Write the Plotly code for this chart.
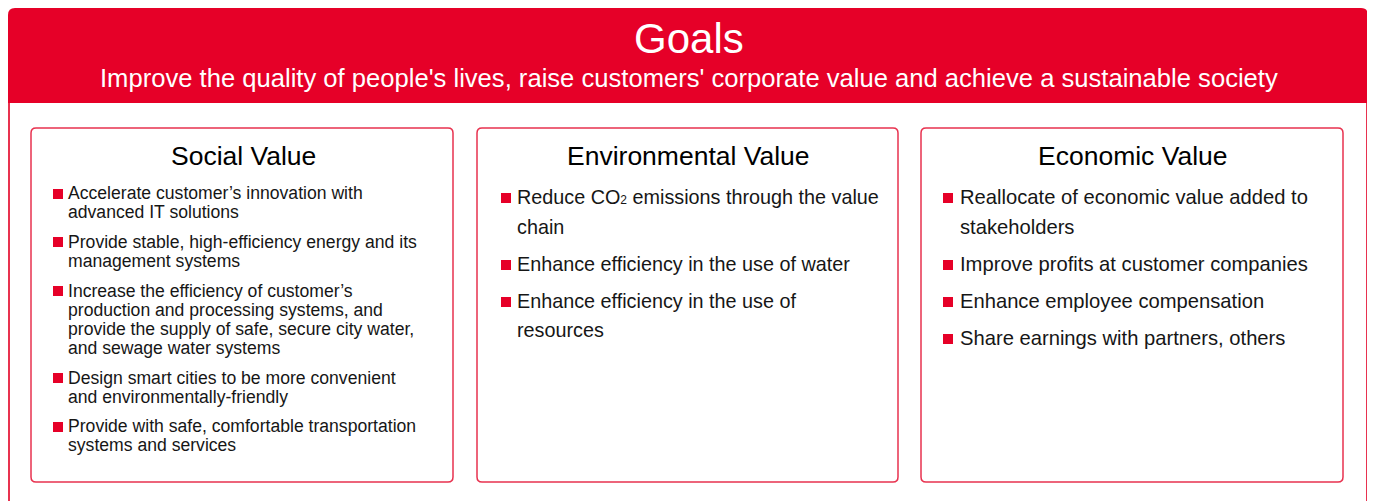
import plotly.graph_objects as go

# ---------------- data ----------------
goal_title = "Goals"
goal_subtitle = "Improve the quality of people's lives, raise customers' corporate value and achieve a sustainable society"

panel_titles = ["Social Value", "Environmental Value", "Economic Value"]

social_items = [
    ["Accelerate customer\u2019s innovation with", "advanced IT solutions"],
    ["Provide stable, high-efficiency energy and its", "management systems"],
    ["Increase the efficiency of customer\u2019s", "production and processing systems, and",
     "provide the supply of safe, secure city water,", "and sewage water systems"],
    ["Design smart cities to be more convenient", "and environmentally-friendly"],
    ["Provide with safe, comfortable transportation", "systems and services"],
]
environmental_items = [
    ['Reduce CO<span style="font-size:12px">2</span> emissions through the value', "chain"],
    ["Enhance efficiency in the use of water"],
    ["Enhance efficiency in the use of", "resources"],
]
economic_items = [
    ["Reallocate of economic value added to", "stakeholders"],
    ["Improve profits at customer companies"],
    ["Enhance employee compensation"],
    ["Share earnings with partners, others"],
]

# ---------------- style / layout ----------------
W, H = 1375, 501
PAGE_OFF = 8  # page body margin: axes ranges are shifted so coords = page pixels
RED = "#e60028"
BORDER = "#e8324f"
TEXT = "#161616"
FONT = "Liberation Sans, Arial, sans-serif"

panels = [
    dict(x0=31, x1=453, items=social_items, fs=17.6, first=199.5, line=19.1, gap=29.6,
         bx=58, tx=66, bs=10),
    dict(x0=477, x1=898, items=environmental_items, fs=19.8, first=204, line=29.6, gap=37.0,
         bx=506, tx=514.5, bs=10),
    dict(x0=921, x1=1343, items=economic_items, fs=20.2, first=204, line=29.6, gap=37.0,
         bx=948, tx=957.5, bs=10),
]
BOX_TOP, BOX_BOT = 128, 482
TITLE_FS = 26.5


def rounded_rect(x0, y0, x1, y1, r):
    return (f"M {x0+r},{y0} H {x1-r} Q {x1},{y0} {x1},{y0+r} V {y1-r} "
            f"Q {x1},{y1} {x1-r},{y1} H {x0+r} Q {x0},{y1} {x0},{y1-r} "
            f"V {y0+r} Q {x0},{y0} {x0+r},{y0} Z")


shapes = []
annotations = []

# header (rounded top corners)
shapes.append(dict(type="path", xref="x", yref="y",
                   path="M 8,103 V 15 Q 8,8 15,8 H 1361 Q 1368,8 1368,15 V 103 Z",
                   fillcolor=RED, line=dict(width=0), layer="below"))
# outer body borders
for xb in (9, 1367):
    shapes.append(dict(type="line", xref="x", yref="y", x0=xb, x1=xb, y0=103, y1=520,
                       line=dict(color=BORDER, width=2)))

annotations.append(dict(x=688.5, y=53 - 0.35 * 42, text=goal_title, showarrow=False,
                        xanchor="center", yanchor="middle",
                        font=dict(family=FONT, size=42, color="white")))
annotations.append(dict(x=688.5, y=87 - 0.35 * 25.6, text=goal_subtitle, showarrow=False,
                        xanchor="center", yanchor="middle",
                        font=dict(family=FONT, size=25.6, color="white")))

bullet_x, bullet_y, bullet_s = [], [], []

for p, title in zip(panels, panel_titles):
    shapes.append(dict(type="path", xref="x", yref="y",
                       path=rounded_rect(p["x0"], BOX_TOP, p["x1"], BOX_BOT, 5),
                       line=dict(color=BORDER, width=1.5), fillcolor="rgba(0,0,0,0)"))
    annotations.append(dict(x=(p["x0"] + p["x1"]) / 2 + 1, y=165 - 0.35 * TITLE_FS, text=title,
                            showarrow=False, xanchor="center", yanchor="middle",
                            font=dict(family=FONT, size=TITLE_FS, color="black")))
    base = p["first"]
    for item in p["items"]:
        bullet_x.append(p["bx"])
        bullet_y.append(round(base - 6))
        bullet_s.append(p["bs"])
        for j, line in enumerate(item):
            if j > 0:
                base += p["line"]
            annotations.append(dict(x=p["tx"], y=base - 0.35 * p["fs"], text=line,
                                    showarrow=False, xanchor="left", yanchor="middle",
                                    font=dict(family=FONT, size=p["fs"], color=TEXT)))
        base += p["gap"]

fig = go.Figure()
fig.add_trace(go.Scatter(x=bullet_x, y=bullet_y, mode="markers",
                         marker=dict(symbol="square", size=bullet_s, color=RED,
                                     opacity=1, line=dict(width=0)),
                         hoverinfo="skip", showlegend=False))

fig.update_layout(
    width=W, height=H,
    margin=dict(l=0, r=0, t=0, b=0),
    paper_bgcolor="white", plot_bgcolor="white",
    xaxis=dict(range=[PAGE_OFF, W + PAGE_OFF], visible=False, fixedrange=True),
    yaxis=dict(range=[H + PAGE_OFF, PAGE_OFF], visible=False, fixedrange=True),
    shapes=shapes, annotations=annotations,
    showlegend=False,
)

fig.write_html("out.html", config={"displayModeBar": False})
